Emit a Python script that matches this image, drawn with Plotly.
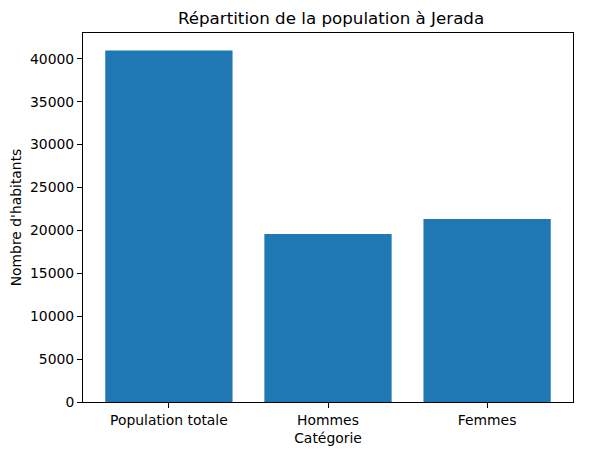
import plotly.graph_objects as go

categories = ['Population totale', 'Hommes', 'Femmes']
values = [40960, 19570, 21320]
y_ticks = [0, 5000, 10000, 15000, 20000, 25000, 30000, 35000, 40000]

# the page body keeps an 8px margin, so the figure is 8px smaller and shifted
fig = go.Figure()
fig.add_trace(go.Bar(x=categories, y=values, marker_color='#1f77b4',
                     marker_line_width=0, width=0.8))

fig.update_layout(
    width=581, height=448,
    margin=dict(l=75, r=16, t=25, b=54, autoexpand=False),
    plot_bgcolor='white', paper_bgcolor='white',
    font=dict(family='DejaVu Sans', size=13.9, color='black'),
    title=dict(text='Répartition de la population à Jerada', x=0.556, xanchor='center',
               y=1 - 10 / 448, yanchor='middle', font=dict(size=16.7)),
    showlegend=False,
)
fig.update_xaxes(range=[-0.54, 2.54], showline=True, linecolor='black', linewidth=1,
                 mirror=True, ticks='outside', ticklen=5, tickcolor='black',
                 showgrid=False, automargin=False, tickfont=dict(size=13.9),
                 title=dict(text='Catégorie', standoff=6, font=dict(size=13.9)))
fig.update_yaxes(range=[0, max(values) * 1.05], showline=True, linecolor='black',
                 linewidth=1, mirror=True, ticks='outside', ticklen=5,
                 tickcolor='black', showgrid=False, zeroline=False,
                 tickvals=y_ticks, tickformat='d', automargin=False,
                 tickfont=dict(size=13.9),
                 title=dict(text="Nombre d'habitants", standoff=8, font=dict(size=13.9)))

fig.write_html("out.html")
